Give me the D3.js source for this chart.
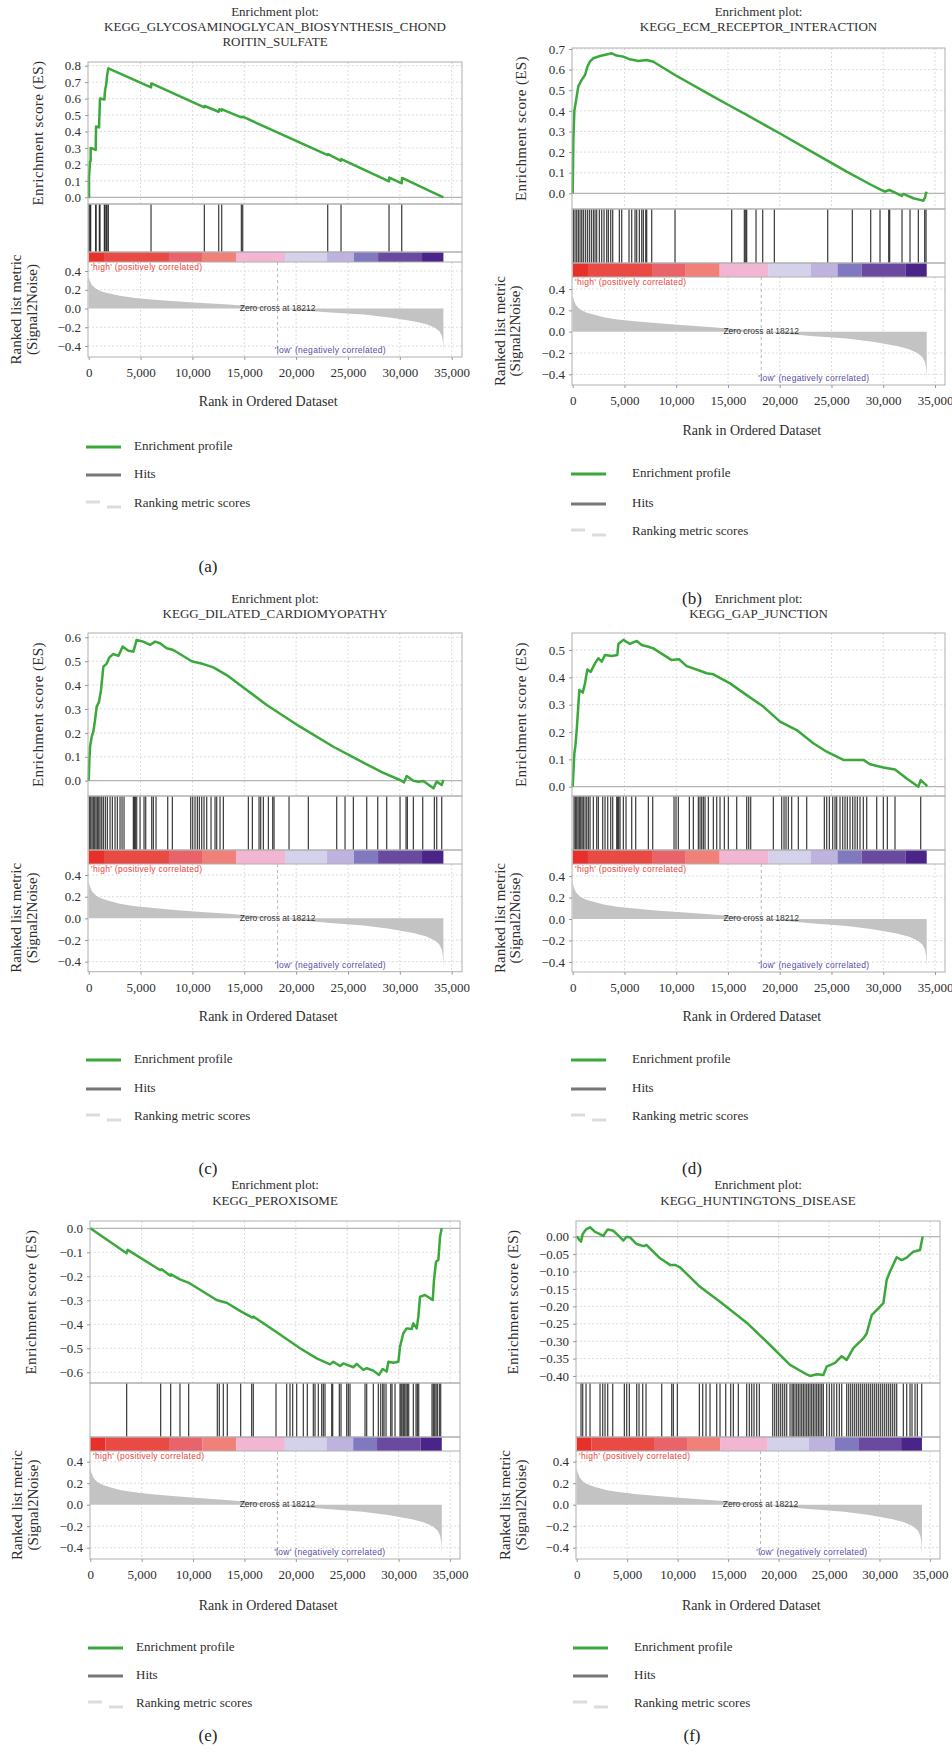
<!DOCTYPE html>
<html lang="en">
<head>
<meta charset="UTF-8">
<title>GSEA enrichment plots</title>
<script src="https://d3js.org/d3.v7.min.js"></script>
<style>
  body { margin: 0; background: #fff; }
  svg { display: block; background: #fff; }
</style>
</head>
<body>
<svg id="fig" width="952" height="1753"></svg>
<script>
// ---- shared data: ranked list (same dataset in every panel) ----
const xTicks = [0, 5000, 10000, 15000, 20000, 25000, 30000, 35000];
const rankTicks = [0.4, 0.2, 0.0, -0.2, -0.4];
const rankMetric = [[0,0.34],[100,0.30],[300,0.25],[700,0.21],[1300,0.18],[2000,0.16],[3000,0.135],
  [4300,0.115],[6000,0.097],[8000,0.08],[10500,0.062],[13500,0.042],[16000,0.022],[18212,0],
  [20000,-0.015],[23000,-0.04],[26500,-0.065],[29000,-0.095],[31300,-0.135],[32500,-0.165],
  [33300,-0.2],[33800,-0.24],[34050,-0.29],[34150,-0.35],[34200,-0.46]];
const zeroCross = 18212;
const colorBreaks = [0, 1475, 7740, 10925, 14200, 18930, 22980, 25580, 27900, 32140, 34200];
const colorBarColors = ["#e8302a","#e94a44","#e9646a","#f08078","#f2b6d3","#d4d2ea","#bdb3de","#8079c0","#6a4aa0","#4b2489"];
const legendLabels = ["Enrichment profile", "Hits", "Ranking metric scores"];

// ---- panel (a) ----
const titleA = ["Enrichment plot:", "KEGG_GLYCOSAMINOGLYCAN_BIOSYNTHESIS_CHOND", "ROITIN_SULFATE"];
const esTicksA = [0, 0.1, 0.2, 0.3, 0.4, 0.5, 0.6, 0.7, 0.8];
const esA = [[0,0],[32,0.0],[32,0.125],[129,0.217],[190,0.22],[190,0.30],[675,0.288],[707,0.43],[1000,0.425],
  [1028,0.49],[1092,0.60],[1510,0.595],[1575,0.65],[1700,0.69],[1767,0.737],[1896,0.784],[6010,0.668],
  [6040,0.692],[11152,0.547],[11180,0.555],[12534,0.52],[12600,0.535],[12824,0.527],[12850,0.535],
  [14720,0.486],[14849,0.49],[23044,0.257],[23080,0.262],[24330,0.222],[24360,0.232],[28958,0.097],
  [28990,0.12],[30180,0.085],[30210,0.118],[34196,0.0]];
const hitsA = [32,129,190,675,707,1028,1092,1510,1575,1700,1767,1896,6010,11152,12534,12824,14720,14849,
  23044,24330,28958,30180];

// ---- panel (b) ----
const titleB = ["Enrichment plot:", "KEGG_ECM_RECEPTOR_INTERACTION"];
const esTicksB = [0, 0.1, 0.2, 0.3, 0.4, 0.5, 0.6, 0.7];
const esB = [[0,0],[64,0.26],[161,0.40],[386,0.47],[547,0.52],[869,0.55],[1191,0.574],[1417,0.614],
  [1674,0.64],[1996,0.655],[2640,0.666],[3767,0.679],[4250,0.668],[4894,0.663],[5538,0.65],[6343,0.642],
  [7148,0.647],[7792,0.638],[9885,0.574],[13588,0.469],[15359,0.42],[16808,0.38],[20028,0.29],
  [23248,0.197],[26468,0.105],[28722,0.044],[29688,0.019],[30171,0.008],[30590,0.016],[31298,0.0],
  [31781,-0.013],[31942,-0.003],[32908,-0.024],[33552,-0.032],[33874,-0.036],[34035,-0.021],
  [34132,0.003],[34260,0.0]];
const hitsB = [64,225,386,547,708,869,1030,1224,1417,1610,1803,1996,2157,2318,2576,2801,3027,3284,3445,
  3671,3864,4508,4733,5442,5699,6021,6182,6440,6665,6826,7052,7148,7631,9885,15359,16583,16712,16808,
  17710,18354,19481,24633,27016,28787,29688,30526,30622,31814,32586,33391,34003,34132];

// ---- panel (c) ----
const titleC = ["Enrichment plot:", "KEGG_DILATED_CARDIOMYOPATHY"];
const esTicksC = [0, 0.1, 0.2, 0.3, 0.4, 0.5, 0.6];
const esC = [[0,0],[64,0.087],[129,0.142],[289,0.184],[450,0.205],[611,0.254],[771,0.31],[996,0.33],
  [1189,0.38],[1414,0.477],[1736,0.49],[1993,0.516],[2378,0.53],[2860,0.522],[3278,0.561],[3825,0.544],
  [4307,0.54],[4628,0.589],[5271,0.582],[5914,0.568],[6396,0.582],[6878,0.575],[7521,0.554],[8164,0.547],
  [9931,0.50],[11056,0.488],[12020,0.474],[13306,0.442],[15234,0.38],[17163,0.317],[20377,0.226],
  [23591,0.142],[26805,0.068],[28412,0.033],[30019,0.003],[30405,-0.007],[30662,0.02],[31305,0.0],
  [31787,-0.004],[32269,-0.001],[33233,-0.032],[33555,-0.004],[34037,-0.018],[34196,0.003]];
const hitsC = [64,193,321,450,578,707,836,964,1093,1253,1414,1607,1800,2057,2282,2539,2764,3021,3214,3407,
  4307,4403,4500,4628,4950,5335,5496,6074,6235,6492,7617,8067,9835,10028,10253,10478,10670,10895,11120,
  11378,11795,12181,12342,12663,12985,15395,15781,16424,16584,16842,17324,17741,17870,19316,21180,23912,
  24716,25519,26805,27866,28733,30019,30597,30726,31305,32205,33330,33555,34037];

// ---- panel (d) ----
const titleD = ["Enrichment plot:", "KEGG_GAP_JUNCTION"];
const esTicksD = [0, 0.1, 0.2, 0.3, 0.4, 0.5];
const esD = [[0,0],[64,0.049],[161,0.122],[258,0.149],[386,0.207],[515,0.28],[644,0.354],[966,0.344],
  [1191,0.378],[1417,0.429],[1739,0.42],[2157,0.451],[2479,0.47],[2801,0.457],[3123,0.482],[3767,0.478],
  [4315,0.482],[4411,0.522],[4894,0.537],[5538,0.522],[6182,0.533],[6665,0.518],[7309,0.512],[7792,0.506],
  [9563,0.463],[10272,0.466],[11012,0.441],[12300,0.424],[12944,0.415],[13588,0.411],[15198,0.378],
  [16808,0.335],[18418,0.293],[20028,0.238],[21638,0.207],[23248,0.159],[24536,0.128],[26146,0.098],
  [28078,0.098],[28722,0.082],[30010,0.07],[31137,0.063],[32264,0.03],[33391,0.0],[33616,0.024],
  [34260,0.002]];
const hitsD = [129,258,386,515,644,773,902,1030,1191,1352,1513,1674,1996,2318,2479,2898,3123,3381,3671,
  3864,4250,4347,4444,4572,4894,5152,5699,6086,7309,7728,9789,9982,10207,11270,11656,12139,12300,12461,
  12622,12783,13105,13588,13910,14232,14651,15037,15842,16808,17002,17195,19384,20189,20415,20608,20833,
  21155,21799,22604,24311,24536,24794,25116,25341,25502,25824,26082,26307,26533,26790,27048,27273,27499,
  27756,28078,28400,29366,30010,30397,31137,33617];

// ---- panel (e) ----
const titleE = ["Enrichment plot:", "KEGG_PEROXISOME"];
const esTicksE = [0, -0.1, -0.2, -0.3, -0.4, -0.5, -0.6];
const esE = [[0,0],[3536,-0.104],[3633,-0.09],[6780,-0.174],[6942,-0.171],[7753,-0.197],[7850,-0.192],
  [8726,-0.2125],[9537,-0.226],[12295,-0.299],[12878,-0.306],[13268,-0.31],[14566,-0.344],[15766,-0.372],
  [15863,-0.368],[18069,-0.431],[20405,-0.5],[22027,-0.542],[23324,-0.567],[23649,-0.556],[24298,-0.574],
  [24620,-0.563],[25595,-0.579],[25920,-0.565],[26569,-0.59],[26893,-0.583],[27542,-0.593],[28093,-0.611],
  [28451,-0.586],[28840,-0.597],[29002,-0.556],[29488,-0.56],[29975,-0.556],[30137,-0.493],[30462,-0.4375],
  [30786,-0.417],[31273,-0.42],[31435,-0.396],[31760,-0.417],[31922,-0.368],[32084,-0.285],[32570,-0.278],
  [33316,-0.299],[33446,-0.215],[33641,-0.139],[33868,-0.132],[34030,-0.035],[34192,0.0]];
const hitsE = [3536,6845,7818,8726,9570,12360,12554,12944,13333,14631,15701,15863,18069,19107,19432,19691,
  20081,20729,21118,21703,21865,22189,22514,22676,22838,23487,23584,24233,24395,24946,25108,25271,26731,
  26893,27542,28028,28256,28451,28580,28775,29229,29359,29651,30137,30235,30332,30462,30592,30721,30851,
  30981,31435,31695,31825,31954,33251,33381,33511,33641,33771,33965,34095];

// ---- panel (f) ----
const titleF = ["Enrichment plot:", "KEGG_HUNTINGTONS_DISEASE"];
const esTicksF = [0, -0.05, -0.10, -0.15, -0.20, -0.25, -0.30, -0.35, -0.40];
const esF = [[0,0],[429,-0.014],[594,0.008],[925,0.021],[1321,0.027],[1816,0.014],[2245,0.008],[2642,0.002],
  [2807,0.01],[3071,0.021],[3632,0.017],[4061,0.005],[4623,-0.011],[4953,0.0],[5283,-0.002],[5943,-0.021],
  [6604,-0.027],[6934,-0.024],[8255,-0.062],[9246,-0.081],[9741,-0.081],[10236,-0.088],[12217,-0.144],
  [14199,-0.187],[16840,-0.247],[19152,-0.311],[21133,-0.368],[22454,-0.39],[23114,-0.40],[23774,-0.395],
  [24435,-0.397],[24765,-0.373],[25590,-0.362],[26251,-0.343],[26746,-0.354],[27407,-0.32],[28397,-0.292],
  [28727,-0.278],[29223,-0.225],[29883,-0.206],[30379,-0.191],[30709,-0.124],[31039,-0.1],[31699,-0.059],
  [32195,-0.067],[32690,-0.06],[33351,-0.043],[34011,-0.038],[34176,-0.014],[34275,0.0]];
const hitsF = [429,594,925,1321,2311,2576,2807,3071,3566,4722,4953,5217,5944,6175,6538,6868,8420,9411,9576,
  9972,12151,12482,12812,13208,13868,14199,14760,15255,15519,16014,16840,17104,17335,17566,17831,18095,
  19416,19614,19812,20010,20208,20406,20604,20803,21133,21331,21463,21628,21793,21958,22123,22289,22454,
  22619,22784,22949,23114,23279,23444,23609,23774,23940,24105,24270,24435,24765,25029,25260,25491,25756,
  26020,26251,26746,26944,27142,27341,27539,27737,27935,28133,28331,28529,28727,28925,29124,29322,29520,
  29718,29916,30114,30313,30511,30709,30907,31105,31303,31501,31699,32360,32690,33020,33218,33516,33747,
  34176];

// ---- layout of each panel ----
const panels = [
  { label: "(a)", title: titleA, es: esA, hits: hitsA, esTicks: esTicksA, fmt: ".1f",
    L: { x0: 88.7, x35: 451.7, left: 88, right: 462, titleY: [13, 28, 43], esTop: 62, esZero: 197.3, esTickPix: 65.7,
         sep: 204, cbTop: 252, cbBot: 262, rk04: 271, rkM04: 346, rkBot: 357, esLabelX: 40, rkLabelX: [18, 34],
         axisTitleY: 403, legendX: 86, legendTextDx: 48, legendY: [447, 475, 504], labelPos: [208, 568] } },
  { label: "(b)", title: titleB, es: esB, hits: hitsB, esTicks: esTicksB, fmt: ".1f",
    L: { x0: 572.7, x35: 935, left: 572, right: 945, titleY: [13, 28], esTop: 48, esZero: 193.3, esTickPix: 49,
         sep: 209, cbTop: 263, cbBot: 277, rk04: 289, rkM04: 374.3, rkBot: 385, esLabelX: 523, rkLabelX: [502, 517],
         axisTitleY: 432, legendX: 571, legendTextDx: 61, legendY: [474, 504, 532], labelPos: [692, 600] } },
  { label: "(c)", title: titleC, es: esC, hits: hitsC, esTicks: esTicksC, fmt: ".1f",
    L: { x0: 88.7, x35: 451.7, left: 88, right: 462, titleY: [600, 615], esTop: 633, esZero: 780.7, esTickPix: 637.3,
         sep: 796, cbTop: 850, cbBot: 864, rk04: 875, rkM04: 961.7, rkBot: 971.7, esLabelX: 40, rkLabelX: [18, 34],
         axisTitleY: 1018, legendX: 86, legendTextDx: 48, legendY: [1060, 1089, 1117], labelPos: [208, 1170] } },
  { label: "(d)", title: titleD, es: esD, hits: hitsD, esTicks: esTicksD, fmt: ".1f",
    L: { x0: 572.7, x35: 935, left: 572, right: 945, titleY: [600, 615], esTop: 633, esZero: 786.7, esTickPix: 650,
         sep: 796, cbTop: 850, cbBot: 864, rk04: 876, rkM04: 962, rkBot: 972, esLabelX: 523, rkLabelX: [502, 517],
         axisTitleY: 1018, legendX: 571, legendTextDx: 61, legendY: [1060, 1089, 1117], labelPos: [692, 1170] } },
  { label: "(e)", title: titleE, es: esE, hits: hitsE, esTicks: esTicksE, fmt: ".1f",
    L: { x0: 90.3, x35: 450, left: 90, right: 460, titleY: [1186, 1202], esTop: 1221, esZero: 1228.3, esTickPix: 1372.3,
         sep: 1383, cbTop: 1437, cbBot: 1451, rk04: 1461.7, rkM04: 1547.7, rkBot: 1559, esLabelX: 33, rkLabelX: [19, 35],
         axisTitleY: 1607, legendX: 88, legendTextDx: 48, legendY: [1648, 1676, 1704], labelPos: [208, 1737] } },
  { label: "(f)", title: titleF, es: esF, hits: hitsF, esTicks: esTicksF, fmt: ".2f",
    L: { x0: 576.7, x35: 930, left: 576, right: 940, titleY: [1186, 1202], esTop: 1221, esZero: 1236.7, esTickPix: 1376,
         sep: 1383, cbTop: 1437, cbBot: 1451, rk04: 1461.7, rkM04: 1547.7, rkBot: 1559, esLabelX: 515, rkLabelX: [507, 523],
         axisTitleY: 1607, legendX: 573, legendTextDx: 61, legendY: [1648, 1676, 1704], labelPos: [692, 1737] } }
];

const serif = '"Liberation Serif", "DejaVu Serif", serif';
const sans = '"Liberation Sans", Arial, sans-serif';
const svg = d3.select("#fig");

panels.forEach(drawPanel);

function drawPanel(p) {
  const L = p.L;
  const g = svg.append("g");
  const x = d3.scaleLinear().domain([0, 35000]).range([L.x0, L.x35]);
  const yEs = d3.scaleLinear().domain([0, p.esTicks[p.esTicks.length - 1]]).range([L.esZero, L.esTickPix]);
  const yRk = d3.scaleLinear().domain([-0.4, 0.4]).range([L.rkM04, L.rk04]);
  const cx = (L.left + L.right) / 2;

  // title
  g.selectAll("text.title").data(p.title).join("text")
    .attr("class", "title")
    .attr("x", cx).attr("y", (d, i) => L.titleY[i])
    .attr("text-anchor", "middle").attr("dominant-baseline", "middle")
    .style("font-family", serif).style("font-size", "13px").attr("fill", "#2e2e2e")
    .text(d => d);

  // dashed grid
  const gridX = xTicks.filter(d => d > 0 && x(d) < L.right);
  [[L.esTop, L.sep], [L.cbBot, L.rkBot]].forEach(([t, b]) => {
    g.append("g").selectAll("line").data(gridX).join("line")
      .attr("x1", d => x(d)).attr("x2", d => x(d)).attr("y1", t).attr("y2", b)
      .attr("stroke", "#dcdcdc").attr("stroke-dasharray", "2,2");
  });
  g.append("g").selectAll("line").data(p.esTicks.filter(d => d !== 0)).join("line")
    .attr("x1", L.left).attr("x2", L.right).attr("y1", d => yEs(d)).attr("y2", d => yEs(d))
    .attr("stroke", "#dcdcdc").attr("stroke-dasharray", "2,2");
  g.append("g").selectAll("line").data(rankTicks.filter(d => d !== 0)).join("line")
    .attr("x1", L.left).attr("x2", L.right).attr("y1", d => yRk(d)).attr("y2", d => yRk(d))
    .attr("stroke", "#dcdcdc").attr("stroke-dasharray", "2,2");

  // ES zero line
  g.append("line").attr("x1", L.left).attr("x2", L.right)
    .attr("y1", yEs(0)).attr("y2", yEs(0)).attr("stroke", "#b4b4b4").attr("stroke-width", 1.2);

  // enrichment profile
  g.append("path").datum(p.es)
    .attr("d", d3.line().x(d => x(d[0])).y(d => yEs(d[1])))
    .attr("fill", "none").attr("stroke", "#3aa83a").attr("stroke-width", 2.5)
    .attr("stroke-linejoin", "round");

  // hits
  g.append("g").selectAll("line").data(p.hits).join("line")
    .attr("x1", d => x(d)).attr("x2", d => x(d)).attr("y1", L.sep).attr("y2", L.cbTop)
    .attr("stroke", "#111").attr("stroke-opacity", 0.8).attr("stroke-width", 1.25);

  // colour bar
  g.append("g").selectAll("rect").data(colorBarColors).join("rect")
    .attr("x", (d, i) => x(colorBreaks[i])).attr("y", L.cbTop)
    .attr("width", (d, i) => x(colorBreaks[i + 1]) - x(colorBreaks[i]))
    .attr("height", L.cbBot - L.cbTop).attr("fill", d => d);

  // ranked list metric
  g.append("path").datum(rankMetric)
    .attr("d", d3.area().x(d => x(d[0])).y0(yRk(0)).y1(d => yRk(d[1])))
    .attr("fill", "#c3c3c3");

  // zero cross
  g.append("line").attr("x1", x(zeroCross)).attr("x2", x(zeroCross))
    .attr("y1", L.cbBot).attr("y2", L.rkBot)
    .attr("stroke", "#b8b8b8").attr("stroke-dasharray", "3,3");
  g.append("text").attr("x", x(zeroCross)).attr("y", yRk(0))
    .attr("text-anchor", "middle").attr("dominant-baseline", "middle")
    .style("font-family", sans).style("font-size", "8.5px").attr("fill", "#333")
    .text("Zero cross at " + zeroCross);
  g.append("text").attr("x", L.left + 3).attr("y", L.cbBot + 6)
    .attr("dominant-baseline", "middle")
    .style("font-family", sans).style("font-size", "8.5px").style("letter-spacing", "0.3px").attr("fill", "#e8453c")
    .text("'high' (positively correlated)");
  g.append("text").attr("x", x(23300)).attr("y", L.rkBot - 6)
    .attr("text-anchor", "middle").attr("dominant-baseline", "middle")
    .style("font-family", sans).style("font-size", "8.5px").style("letter-spacing", "0.3px").attr("fill", "#5a4aa8")
    .text("'low' (negatively correlated)");

  // boxes
  [[L.esTop, L.sep], [L.sep, L.cbTop], [L.cbTop, L.rkBot]].forEach(([t, b]) => {
    g.append("rect").attr("x", L.left).attr("y", t).attr("width", L.right - L.left).attr("height", b - t)
      .attr("fill", "none").attr("stroke", "#b0b0b0");
  });
  g.append("line").attr("x1", L.left).attr("x2", L.right).attr("y1", L.cbBot).attr("y2", L.cbBot)
    .attr("stroke", "#b0b0b0");

  // axes
  const esAxis = g.append("g").attr("transform", `translate(${L.left},0)`)
    .call(d3.axisLeft(yEs).tickValues(p.esTicks).tickFormat(d3.format(p.fmt)).tickSize(3).tickPadding(4));
  const rkAxis = g.append("g").attr("transform", `translate(${L.left},0)`)
    .call(d3.axisLeft(yRk).tickValues(rankTicks).tickFormat(d3.format(".1f")).tickSize(3).tickPadding(4));
  const xAxis = g.append("g").attr("transform", `translate(0,${L.rkBot})`)
    .call(d3.axisBottom(x).tickValues(xTicks).tickFormat(d3.format(",")).tickSize(3).tickPadding(8));
  [esAxis, rkAxis, xAxis].forEach(a => {
    a.select(".domain").remove();
    a.selectAll(".tick line").attr("stroke", "#999");
    a.selectAll(".tick text").style("font-family", serif).style("font-size", "13px").attr("fill", "#2e2e2e");
  });

  // axis titles
  g.append("text")
    .attr("transform", `translate(${L.esLabelX},${(L.esTop + L.sep) / 2}) rotate(-90)`)
    .attr("text-anchor", "middle").attr("dominant-baseline", "middle")
    .style("font-family", serif).style("font-size", "15px").style("letter-spacing", "0.4px").attr("fill", "#2e2e2e")
    .text("Enrichment score (ES)");
  g.selectAll("text.rkl").data(["Ranked list metric", "(Signal2Noise)"]).join("text")
    .attr("class", "rkl")
    .attr("transform", (d, i) => `translate(${L.rkLabelX[i]},${(L.cbBot + L.rkBot) / 2}) rotate(-90)`)
    .attr("text-anchor", "middle").attr("dominant-baseline", "middle")
    .style("font-family", serif).style("font-size", "15px").attr("fill", "#2e2e2e")
    .text(d => d);
  g.append("text").attr("x", (L.x0 + L.x35) / 2 - 2).attr("y", L.axisTitleY)
    .attr("text-anchor", "middle").attr("dominant-baseline", "middle")
    .style("font-family", serif).style("font-size", "14px").attr("fill", "#2e2e2e")
    .text("Rank in Ordered Dataset");

  // legend
  const lg = g.append("g");
  const lx = L.legendX, ly = L.legendY;
  lg.append("line").attr("x1", lx).attr("x2", lx + 35).attr("y1", ly[0]).attr("y2", ly[0])
    .attr("stroke", "#3aa83a").attr("stroke-width", 3);
  lg.append("line").attr("x1", lx).attr("x2", lx + 35).attr("y1", ly[1]).attr("y2", ly[1])
    .attr("stroke", "#777").attr("stroke-width", 3);
  lg.append("line").attr("x1", lx).attr("x2", lx + 14).attr("y1", ly[2] - 2).attr("y2", ly[2] - 2)
    .attr("stroke", "#dcdcdc").attr("stroke-width", 3);
  lg.append("line").attr("x1", lx + 21).attr("x2", lx + 35).attr("y1", ly[2] + 3).attr("y2", ly[2] + 3)
    .attr("stroke", "#dcdcdc").attr("stroke-width", 3);
  lg.selectAll("text").data(legendLabels).join("text")
    .attr("x", lx + L.legendTextDx).attr("y", (d, i) => ly[i])
    .attr("dominant-baseline", "middle")
    .style("font-family", serif).style("font-size", "13px").attr("fill", "#2e2e2e")
    .text(d => d);

  // panel label
  g.append("text").attr("x", L.labelPos[0]).attr("y", L.labelPos[1])
    .attr("text-anchor", "middle").attr("dominant-baseline", "middle")
    .style("font-family", serif).style("font-size", "17px").attr("fill", "#222")
    .text(p.label);
}
</script>
</body>
</html>
